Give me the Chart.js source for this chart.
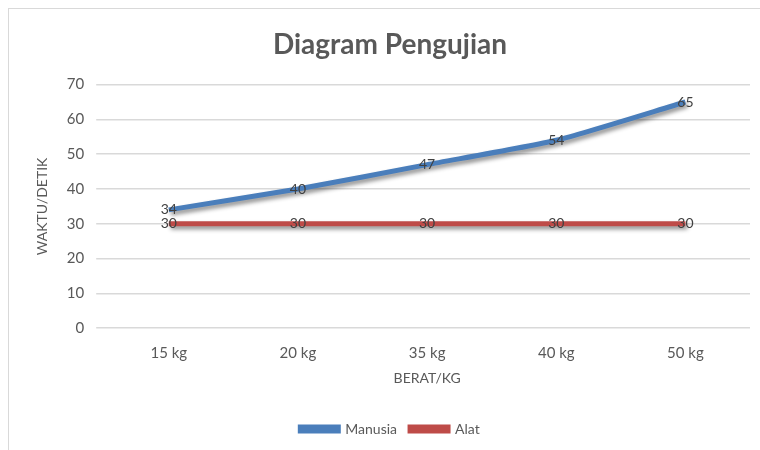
<!DOCTYPE html>
<html>
<head>
<meta charset="utf-8">
<script src="https://cdn.jsdelivr.net/npm/chart.js@4"></script>
<style>
	body { margin: 0; background: #fff; }
	#wrap { position: absolute; left: 0; top: 0; width: 760px; height: 450px; }
</style>
</head>
<body>
<div id="wrap"><canvas id="grafik"></canvas></div>
<script>
const kategori = ["15 kg", "20 kg", "35 kg", "40 kg", "50 kg"];
const manusia = [34, 40, 47, 54, 65];
const alat = [30, 30, 30, 30, 30];

const warnaTeks = "#595959";
const fontUtama = "Lato, 'Open Sans', sans-serif";

// bingkai tipis di kiri dan atas seperti di gambar asli
const bingkai = {
	id: "bingkai",
	beforeDraw(chart) {
		const ctx = chart.ctx;
		ctx.save();
		ctx.strokeStyle = "#d9d9d9";
		ctx.lineWidth = 1;
		ctx.strokeRect(8.5, 8.5, 800, 500);
		ctx.restore();
	}
};

// bayangan di bawah garis
const bayangan = {
	id: "bayangan",
	beforeDatasetDraw(chart) {
		const ctx = chart.ctx;
		ctx.save();
		ctx.shadowColor = "rgba(0,0,0,0.45)";
		ctx.shadowBlur = 4;
		ctx.shadowOffsetX = 2;
		ctx.shadowOffsetY = 3;
	},
	afterDatasetDraw(chart) {
		chart.ctx.restore();
	}
};

// label nilai di tengah titik
const labelNilai = {
	id: "labelNilai",
	afterDatasetsDraw(chart) {
		const ctx = chart.ctx;
		ctx.save();
		ctx.font = "14px " + fontUtama;
		ctx.fillStyle = "#404040";
		ctx.textAlign = "center";
		ctx.textBaseline = "middle";
		chart.data.datasets.forEach((ds, i) => {
			chart.getDatasetMeta(i).data.forEach((pt, j) => {
				ctx.fillText(ds.data[j], pt.x, pt.y);
			});
		});
		ctx.restore();
	}
};

new Chart(document.getElementById("grafik").getContext("2d"), {
	type: "line",
	data: {
		labels: kategori,
		datasets: [{
			label: "Manusia",
			data: manusia,
			borderColor: "#4a7ebb",
			backgroundColor: "#4a7ebb",
			borderWidth: 5,
			pointRadius: 0,
			tension: 0.2
		}, {
			label: "Alat",
			data: alat,
			borderColor: "#be4b48",
			backgroundColor: "#be4b48",
			borderWidth: 5,
			pointRadius: 0
		}]
	},
	options: {
		responsive: true,
		maintainAspectRatio: false,
		animation: false,
		layout: { padding: { left: 30, right: 10, top: 28, bottom: 4 } },
		plugins: {
			title: {
				display: true,
				text: "Diagram Pengujian",
				color: warnaTeks,
				font: { family: fontUtama, size: 28, weight: "bold" },
				padding: { top: 0, bottom: 23 }
			},
			legend: {
				position: "bottom",
				labels: {
					color: warnaTeks,
					font: { family: fontUtama, size: 14 },
					boxWidth: 38,
					boxHeight: 4,
					padding: 13
				}
			},
			tooltip: { enabled: false }
		},
		scales: {
			x: {
				offset: true,
				grid: { display: false },
				border: { display: false },
				ticks: { color: warnaTeks, font: { family: fontUtama, size: 15 }, padding: 8 },
				title: {
					display: true,
					text: "BERAT/KG",
					color: warnaTeks,
					font: { family: fontUtama, size: 14 },
					padding: { top: 0, bottom: 22 }
				}
			},
			y: {
				min: 0,
				max: 70,
				grid: { color: "#d9d9d9", lineWidth: 1.5 },
				border: { display: false },
				ticks: { stepSize: 10, color: warnaTeks, font: { family: fontUtama, size: 15 }, padding: 12 },
				title: {
					display: true,
					text: "WAKTU/DETIK",
					color: warnaTeks,
					font: { family: fontUtama, size: 14 }
				}
			}
		}
	},
	plugins: [bingkai, bayangan, labelNilai]
});
</script>
</body>
</html>
